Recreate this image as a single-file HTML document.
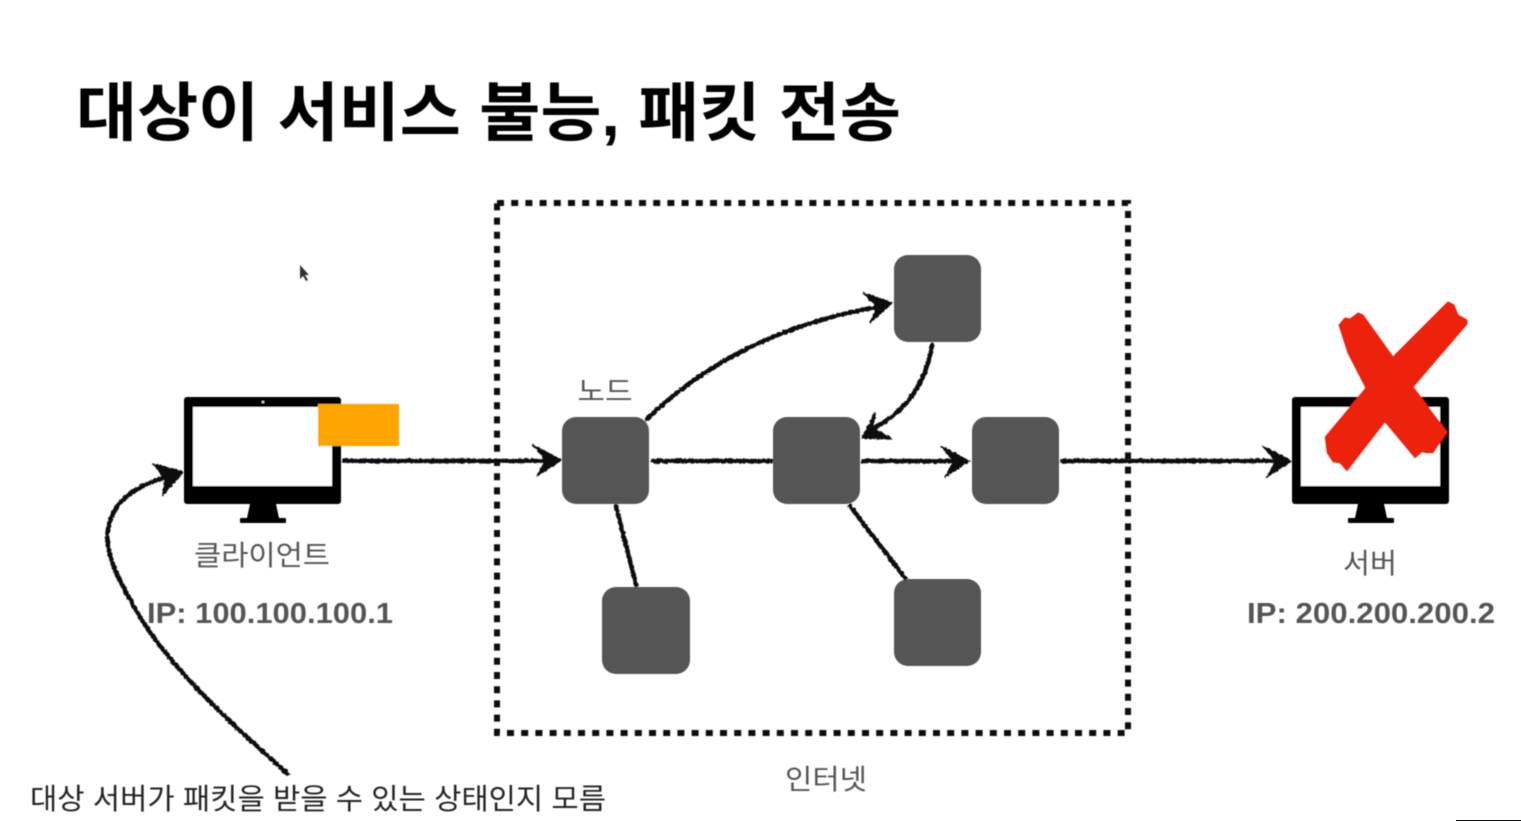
<!DOCTYPE html>
<html lang="ko">
<head>
<meta charset="utf-8">
<style>
html,body{margin:0;padding:0;background:#fff;width:1521px;height:821px;overflow:hidden}
svg{display:block}
text{font-family:"Liberation Sans","Noto Sans CJK KR",sans-serif}
</style>
</head>
<body>
<svg width="1521" height="821" viewBox="0 0 1521 821" xmlns="http://www.w3.org/2000/svg">
<defs>
<filter id="soft" filterUnits="userSpaceOnUse" x="0" y="0" width="1521" height="821">
  <feGaussianBlur stdDeviation="0.55"/>
</filter>
<filter id="rough" filterUnits="userSpaceOnUse" x="0" y="0" width="1521" height="821">
  <feTurbulence type="fractalNoise" baseFrequency="0.35" numOctaves="2" seed="4" result="n"/>
  <feDisplacementMap in="SourceGraphic" in2="n" scale="3" xChannelSelector="R" yChannelSelector="G"/>
  <feGaussianBlur stdDeviation="0.5"/>
</filter>
<g id="mon">
  <rect x="0" y="0" width="157" height="107" rx="3" fill="#000"/>
  <rect x="9" y="10" width="139" height="79" fill="#fff"/>
  <path d="M66 107H92L95 121H63Z" fill="#000"/>
  <rect x="56" y="121" width="46" height="5" rx="1" fill="#000"/>
</g>
</defs>
<rect width="1521" height="821" fill="#fff"/>
<g filter="url(#soft)">
<text x="76" y="135.5" font-size="64" font-weight="700" fill="#000" textLength="825" lengthAdjust="spacingAndGlyphs">대상이 서비스 불능, 패킷 전송</text>

<rect x="497" y="203" width="631" height="530" fill="none" stroke="#111" stroke-width="6" stroke-dasharray="7 7.2"/>

<g fill="#555">
  <rect x="562" y="417" width="87" height="87" rx="14"/>
  <rect x="773" y="417" width="87" height="87" rx="14"/>
  <rect x="972" y="417" width="87" height="87" rx="14"/>
  <rect x="894" y="255" width="87" height="87" rx="14"/>
  <rect x="602" y="587" width="88" height="87" rx="14"/>
  <rect x="894" y="579" width="87" height="87" rx="14"/>
</g>

<use href="#mon" x="184" y="397"/>
<circle cx="263" cy="402" r="1.3" fill="#ddd"/>
<rect x="318" y="404" width="81" height="42" fill="#fea500"/>

<use href="#mon" x="1292" y="397"/>
<path d="M1339 325L1345 318L1350 319L1358 313L1363 315L1393 357L1448 302L1454 305L1458 315L1467 320L1467 324L1413 387L1447 432L1433 453L1427 453L1422 452L1415 458L1385 422L1347 471L1340 463L1333 462L1327 453L1325 437L1366 388L1348 353Z" fill="#ec210d" stroke="#ec210d" stroke-width="1" stroke-linejoin="round"/>

<g fill="#555">
  <text x="262" y="565" font-size="28" text-anchor="middle" textLength="136" lengthAdjust="spacingAndGlyphs">클라이언트</text>
  <text x="605" y="401" font-size="28" text-anchor="middle" textLength="55" lengthAdjust="spacingAndGlyphs">노드</text>
  <text x="826" y="789" font-size="28" text-anchor="middle" textLength="82" lengthAdjust="spacingAndGlyphs">인터넷</text>
  <text x="1370" y="573" font-size="28" text-anchor="middle" textLength="54" lengthAdjust="spacingAndGlyphs">서버</text>
  <text x="147" y="623" font-size="29" font-weight="700" textLength="246" lengthAdjust="spacingAndGlyphs">IP: 100.100.100.1</text>
  <text x="1247" y="623" font-size="29" font-weight="700" textLength="248" lengthAdjust="spacingAndGlyphs">IP: 200.200.200.2</text>
</g>
<text x="30" y="809" font-size="29" fill="#222" textLength="576" lengthAdjust="spacingAndGlyphs">대상 서버가 패킷을 받을 수 있는 상태인지 모름</text>

<path d="M300 265L300 279L303 276L306 281L308 280L305 275L309 275Z" fill="#333"/>
</g>

<g filter="url(#rough)">
  <g fill="none" stroke="#111" stroke-width="4.5" stroke-linecap="round" stroke-linejoin="round">
    <path d="M344 461H548"/>
    <path d="M653 461H771"/>
    <path d="M863 461H956"/>
    <path d="M1062 461H1278"/>
    <path d="M647 419C710 358 790 322 878 307"/>
    <path d="M932 345C926 382 908 410 874 428"/>
    <path d="M616 506L636 585"/>
    <path d="M850 506L905 578"/>
    <path d="M288 774C232 724 165 665 132 603C108 560 98 535 118 505C130 490 150 482 168 476"/>
  </g>
  <g fill="#111" stroke="#111" stroke-width="1.5" stroke-linejoin="round">
    <path d="M561 460L533 445L546 460L537 476Z"/>
    <path d="M969 461L941 446L954 461L945 477Z"/>
    <path d="M1291 461L1263 446L1276 461L1267 477Z"/>
    <path d="M892 303L863 293L877 307L870 323Z"/>
    <path d="M862 438L875 413L873 428L892 439Z"/>
    <path d="M183 472L153 464L165 478L163 495Z"/>
  </g>
</g>
<rect x="1456" y="820" width="65" height="1" fill="#111"/>
</svg>
</body>
</html>
